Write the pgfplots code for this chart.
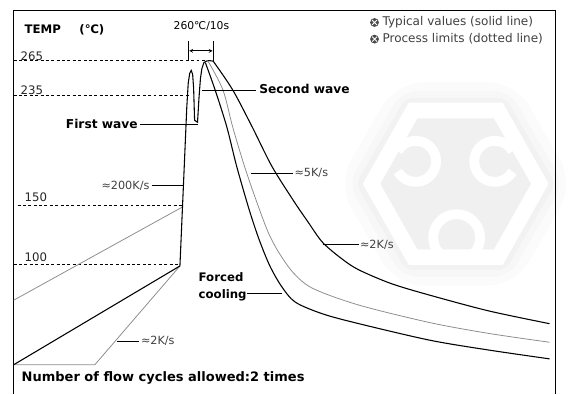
\documentclass[border=0pt]{standalone}
\usepackage{pgfplots}
\pgfplotsset{compat=1.18}
\usepackage{fontspec}
\setmainfont{Liberation Sans}
\newfontfamily\djfont{DejaVu Sans}
\definecolor{lgray}{gray}{0.55}
\begin{document}
\begin{tikzpicture}
\begin{axis}[scale only axis, width=574pt, height=403pt,
  xmin=0, xmax=574, ymin=0, ymax=403, y dir=reverse,
  hide axis, clip=false]
\addplot[draw=none, forget plot] coordinates {(0,0) (574,403)};
% watermark
\fill[gray!3, rounded corners=28pt] (axis cs:345,188) -- (axis cs:405,84) -- (axis cs:527,84) -- (axis cs:587,188) -- (axis cs:527,292) -- (axis cs:405,292) -- cycle;
\fill[gray!6, rounded corners=16pt] (axis cs:356,188) -- (axis cs:411,93) -- (axis cs:521,93) -- (axis cs:576,188) -- (axis cs:521,283) -- (axis cs:411,283) -- cycle;
\fill[gray!10, rounded corners=8pt] (axis cs:364,188) -- (axis cs:415,100) -- (axis cs:517,100) -- (axis cs:568,188) -- (axis cs:517,276) -- (axis cs:415,276) -- cycle;
\fill[white] (axis cs:371,188) -- (axis cs:418,105) -- (axis cs:514,105) -- (axis cs:561,188) -- (axis cs:514,271) -- (axis cs:418,271) -- cycle;
\fill[gray!12] (axis cs:389,188) -- (axis cs:427,121) -- (axis cs:505,121) -- (axis cs:543,188) -- (axis cs:505,255) -- (axis cs:427,255) -- cycle;
\draw[white, line width=10pt] (axis cs:425,165) ++(-150:21pt) arc[start angle=-150, end angle=150, radius=21pt];
\draw[white, line width=10pt] (axis cs:506,165) ++(30:21pt) arc[start angle=30, end angle=330, radius=21pt];
\draw[white, line width=10pt] (axis cs:467,243) ++(-55:24pt) arc[start angle=-55, end angle=235, radius=24pt];
% frame
\addplot[black, line width=1.2pt] coordinates {(14,403) (14,11) (568,11) (568,403)};
% dashed reference lines
\addplot[black, line width=0.9pt, dash pattern=on 3pt off 2.5pt] coordinates {(14,62) (210,62)};
\addplot[black, line width=0.9pt, dash pattern=on 3pt off 2.5pt] coordinates {(14,98) (193,98)};
\addplot[black, line width=0.9pt, dash pattern=on 3pt off 2.5pt] coordinates {(18,210) (187,210)};
\addplot[black, line width=0.9pt, dash pattern=on 3pt off 2.5pt] coordinates {(14,270) (184,270)};
% preheat limits (gray)
\addplot[lgray, line width=0.8pt] coordinates {(14,307) (186,212)};
\addplot[lgray, line width=0.8pt] coordinates {(14,373) (97,373) (184,272)};
% typical preheat + rise + waves (black)
\addplot[black, line width=1.1pt] coordinates {(14,373) (184,272) (188,180) (191,110) (192.5,85) (194,75) (195.5,72) (197,76) (198,90) (199,123) (202,125) (203.5,100) (205,80) (206.5,70) (208.5,64) (211,62.5) (214,62) (218,62.5)};
% cooling curves
\addplot[black, line width=1.1pt, smooth] coordinates {(210,64) (220,92) (232,130) (242,170) (255,215) (265,245) (276,272) (288,293) (302,309) (330,321) (367,331) (440,348) (500,358) (562,367)};
\addplot[lgray, line width=0.8pt, smooth] coordinates {(213,63) (228,92) (238,130) (250,170) (262,205) (274,237) (285,258) (300,279) (320,295) (367,312) (440,330) (500,341) (562,350)};
\addplot[black, line width=1.1pt, smooth] coordinates {(218,62.5) (238,92) (258,130) (278,170) (300,205) (315,227) (330,248) (350,265) (367,276) (400,290) (440,302) (500,318) (562,331)};
% arrow 260C/10s
\addplot[black, line width=0.8pt] coordinates {(193,42) (193,62)};
\addplot[black, line width=0.8pt] coordinates {(218,42) (218,62)};
\draw[black, line width=0.8pt, <->, >=stealth] (axis cs:193.5,52) -- (axis cs:217.5,52);
% leaders
\addplot[black, line width=0.9pt] coordinates {(143,127) (202,127)};
\addplot[black, line width=0.9pt] coordinates {(207,92) (262,92)};
\addplot[black, line width=0.9pt] coordinates {(155,190) (188,190)};
\addplot[black, line width=0.9pt] coordinates {(257,177) (300,177)};
\addplot[black, line width=0.9pt] coordinates {(330,250) (367,250)};
\addplot[black, line width=0.9pt] coordinates {(120,349) (142,349)};
\addplot[black, line width=0.9pt] coordinates {(253,300) (288,300)};
% texts
\node[anchor=west, inner sep=0pt, font=\djfont\bfseries\fontsize{12}{14}\selectfont] at (axis cs:25,30) {TEMP};
\node[anchor=west, inner sep=0pt, font=\djfont\bfseries\fontsize{12}{14}\selectfont] at (axis cs:81,30) {(℃)};
\node[inner sep=0pt, font=\djfont\fontsize{11}{13}\selectfont] at (axis cs:206,27) {260℃/10s};
\node[anchor=west, inner sep=0pt, font=\djfont\fontsize{12}{14}\selectfont, text=black!85] at (axis cs:21,57) {265};
\node[anchor=west, inner sep=0pt, font=\djfont\fontsize{12}{14}\selectfont, text=black!85] at (axis cs:21,92) {235};
\node[anchor=west, inner sep=0pt, font=\djfont\fontsize{12}{14}\selectfont, text=black!85] at (axis cs:25,202) {150};
\node[anchor=west, inner sep=0pt, font=\djfont\fontsize{12}{14}\selectfont, text=black!85] at (axis cs:25,263) {100};
\node[anchor=east, inner sep=0pt, font=\djfont\bfseries\fontsize{12.5}{14}\selectfont] at (axis cs:141,127) {First wave};
\node[anchor=west, inner sep=0pt, font=\djfont\bfseries\fontsize{12.5}{14}\selectfont] at (axis cs:265,91) {Second wave};
\node[anchor=west, inner sep=0pt, font=\djfont\bfseries\fontsize{12}{14}\selectfont] at (axis cs:203,283) {Forced};
\node[anchor=west, inner sep=0pt, font=\djfont\bfseries\fontsize{12}{14}\selectfont] at (axis cs:203,302) {cooling};
\node[anchor=west, inner sep=0pt, font=\djfont\bfseries\fontsize{13.3}{15}\selectfont] at (axis cs:22,387) {Number of flow cycles allowed:2 times};
\node[anchor=east, inner sep=0pt, font=\djfont\fontsize{11.5}{13}\selectfont, text=black!75] at (axis cs:153,190) {≈200K/s};
\node[anchor=west, inner sep=0pt, font=\djfont\fontsize{11.5}{13}\selectfont, text=black!75] at (axis cs:301,177) {≈5K/s};
\node[anchor=west, inner sep=0pt, font=\djfont\fontsize{11.5}{13}\selectfont, text=black!75] at (axis cs:368,250) {≈2K/s};
\node[anchor=west, inner sep=0pt, font=\djfont\fontsize{11.5}{13}\selectfont, text=black!75] at (axis cs:144,349) {≈2K/s};
% legend
\fill[black!70] (axis cs:383,23) circle[radius=4.5pt];
\draw[white, line width=0.9pt] (axis cs:380.5,20.5) -- (axis cs:385.5,25.5) (axis cs:380.5,25.5) -- (axis cs:385.5,20.5);
\fill[black!70] (axis cs:383,40) circle[radius=4.5pt];
\draw[white, line width=0.9pt] (axis cs:380.5,37.5) -- (axis cs:385.5,42.5) (axis cs:380.5,42.5) -- (axis cs:385.5,37.5);
\node[anchor=west, inner sep=0pt, font=\djfont\fontsize{12.3}{14}\selectfont, text=black!75] at (axis cs:391,23) {Typical values (solid line)};
\node[anchor=west, inner sep=0pt, font=\djfont\fontsize{12.3}{14}\selectfont, text=black!75] at (axis cs:391,40) {Process limits (dotted line)};
\end{axis}
\end{tikzpicture}
\end{document}
